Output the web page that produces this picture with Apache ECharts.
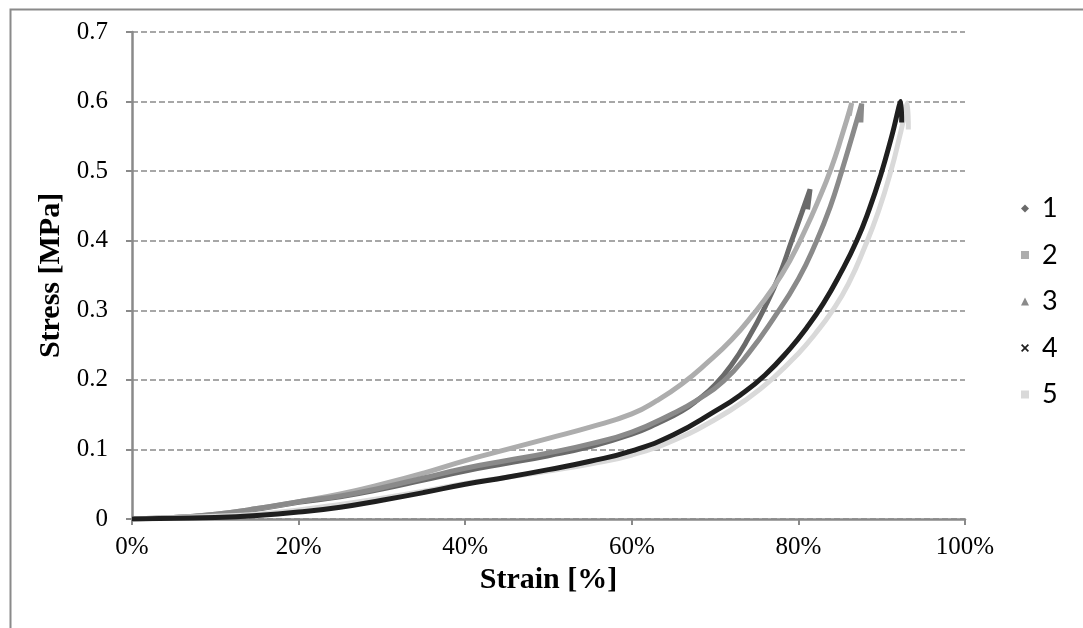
<!DOCTYPE html>
<html>
<head>
<meta charset="utf-8">
<script src="https://cdn.jsdelivr.net/npm/echarts@6/dist/echarts.min.js"></script>
<style>html,body{margin:0;padding:0;background:#fff}#c{width:1083px;height:628px}</style>
</head>
<body>
<div id="c"></div>
<script>
// Data: [strain %, stress MPa]
const seriesNames = ['1', '2', '3', '4', '5'];
const s1 = [[0,0],[5,0.002],[10,0.006],[15,0.014],[20,0.024],[25,0.032],[30,0.043],[35,0.056],[40,0.069],[45,0.080],[50,0.091],[55,0.104],[60,0.122],[63,0.137],[66,0.155],[68,0.172],[70,0.193],[72,0.222],[74,0.260],[76,0.305],[77.7,0.350],[79.2,0.400],[80.4,0.440],[81.4,0.474],[81.1,0.445]];
const s2 = [[0,0],[5,0.002],[10,0.007],[15,0.015],[20,0.025],[25,0.036],[30,0.050],[35,0.066],[40,0.084],[45,0.100],[50,0.116],[55,0.132],[60,0.151],[63,0.170],[66,0.194],[69,0.224],[72,0.258],[74.5,0.293],[77,0.333],[79,0.372],[80.8,0.415],[82.4,0.458],[83.9,0.503],[85.2,0.550],[86.4,0.598],[86.1,0.580]];
const s3 = [[0,0],[5,0.002],[10,0.007],[15,0.015],[20,0.025],[25,0.033],[30,0.045],[35,0.059],[40,0.073],[45,0.084],[50,0.095],[55,0.108],[60,0.125],[65,0.152],[68,0.172],[71,0.198],[74,0.238],[77,0.288],[80,0.345],[82.2,0.400],[83.8,0.448],[85.2,0.500],[86.5,0.552],[87.6,0.597],[87.5,0.570]];
const s4 = [[0,0],[5,0.001],[10,0.002],[15,0.005],[20,0.010],[25,0.017],[30,0.027],[35,0.038],[40,0.050],[45,0.060],[50,0.071],[55,0.083],[60,0.098],[65,0.121],[70,0.155],[73,0.178],[76,0.207],[79,0.245],[81,0.275],[83,0.310],[85,0.352],[87,0.400],[88.5,0.445],[89.9,0.495],[91.2,0.550],[92.3,0.600],[92.4,0.570]];
const s5 = [[0,0],[5,0.002],[10,0.004],[15,0.007],[20,0.013],[25,0.021],[30,0.030],[35,0.040],[40,0.051],[45,0.060],[50,0.069],[55,0.079],[60,0.092],[65,0.113],[70,0.143],[74,0.174],[77,0.203],[80,0.238],[82,0.266],[84,0.298],[86,0.338],[88,0.392],[89.6,0.442],[91.1,0.500],[92.2,0.552],[93.1,0.598],[93.2,0.560]];
const xTickValues = [0, 20, 40, 60, 80, 100];
const yTickLabels = ['0', '0.1', '0.2', '0.3', '0.4', '0.5', '0.6', '0.7'];

const colors = ['#6a6a6a', '#adadad', '#8a8a8a', '#1f1f1f', '#d9d9d9'];
const icons = [
  'path://M5,0 L10,5 L5,10 L0,5 Z',
  'rect',
  'triangle',
  'path://M0,1.5 L1.5,0 L5,3.5 L8.5,0 L10,1.5 L6.5,5 L10,8.5 L8.5,10 L5,6.5 L1.5,10 L0,8.5 L3.5,5 Z',
  'rect'
];
const allData = [s1, s2, s3, s4, s5];

const chart = echarts.init(document.getElementById('c'), null, {renderer: 'canvas'});
const serif = '"Liberation Serif", "Times New Roman", serif';
chart.setOption({
  animation: false,
  backgroundColor: '#fff',
  graphic: [{
    type: 'rect', left: 8, top: 7, z: -10,
    shape: {width: 1100, height: 650},
    style: {fill: 'none', stroke: '#8a8a8a', lineWidth: 2}
  }],
  grid: {left: 132, right: 118, top: 32, bottom: 109, containLabel: false},
  legend: {
    orient: 'vertical', left: 1016, top: 190,
    itemWidth: 8, itemHeight: 8, itemGap: 19.5,
    textStyle: {fontFamily: 'Lato, "Open Sans", sans-serif', fontSize: 27, color: '#000', padding: [0, 0, 0, 8]},
    data: seriesNames.map((n, i) => ({name: n, icon: icons[i], itemStyle: {color: colors[i]}}))
  },
  xAxis: {
    type: 'value', min: 0, max: 100, interval: 20,
    name: 'Strain [%]', nameLocation: 'middle', nameGap: 43,
    nameTextStyle: {fontFamily: serif, fontSize: 30, fontWeight: 'bold', color: '#000'},
    axisLine: {show: true, lineStyle: {color: '#8a8a8a', width: 2.5}},
    axisTick: {show: true, length: 6, lineStyle: {color: '#8a8a8a', width: 2}},
    axisLabel: {fontFamily: serif, fontSize: 25, color: '#000', margin: 16,
      formatter: v => xTickValues.includes(v) ? v + '%' : ''},
    splitLine: {show: false}
  },
  yAxis: {
    type: 'value', min: 0, max: 0.7, interval: 0.1,
    name: 'Stress [MPa]', nameLocation: 'middle', nameGap: 55,
    nameTextStyle: {fontFamily: serif, fontSize: 30, fontWeight: 'bold', color: '#000'},
    axisLine: {show: true, lineStyle: {color: '#8a8a8a', width: 2.5}},
    axisTick: {show: true, length: 6, lineStyle: {color: '#8a8a8a', width: 2}},
    axisLabel: {fontFamily: serif, fontSize: 25, color: '#000', margin: 24,
      formatter: v => yTickLabels[Math.round(v * 10)]},
    splitLine: {show: true, lineStyle: {color: '#8a8a8a', width: 1.5, type: [6, 3]}}
  },
  series: allData.map((d, i) => ({
    name: seriesNames[i], type: 'line', data: d,
    smooth: 0.5, showSymbol: false, symbol: icons[i],
    lineStyle: {color: colors[i], width: 5},
    itemStyle: {color: colors[i]},
    z: i === 3 ? 3 : 2
  }))
});
</script>
</body>
</html>
